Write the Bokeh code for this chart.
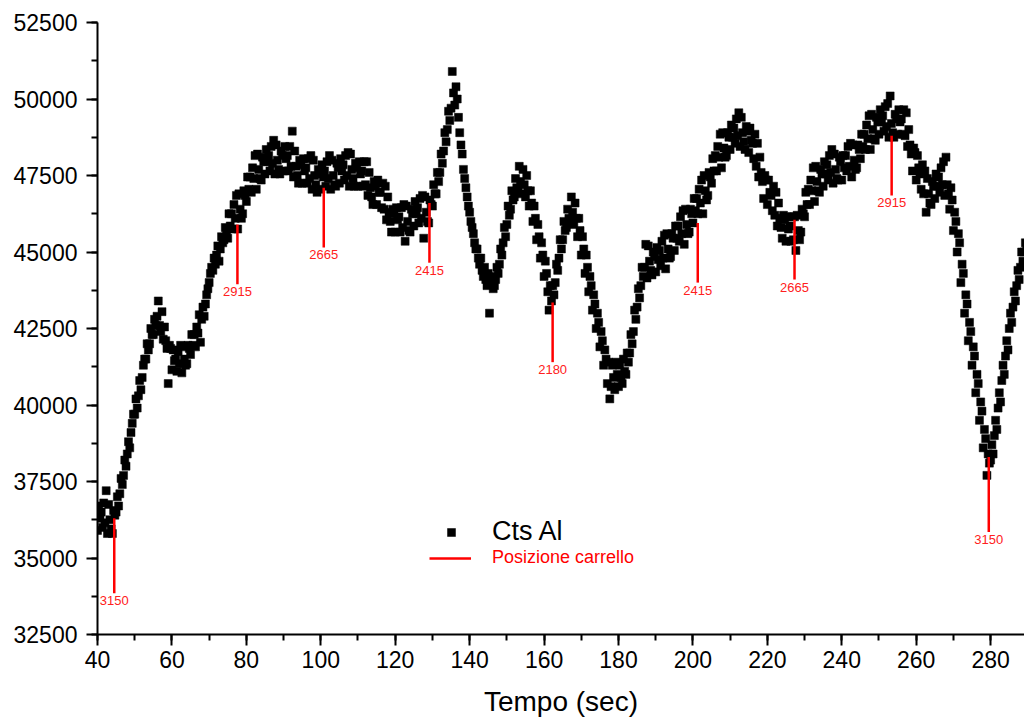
from bokeh.plotting import figure
from bokeh.models import Range1d, SingleIntervalTicker, Legend, LegendItem, ColumnDataSource
from bokeh.embed import file_html
from bokeh.resources import INLINE
from bokeh.core.properties import value

# Counts of Al, sampled 3 times per second from t = 40 s (one row = 5 seconds)
cts_al = [
    35900, 36700, 36300, 36500, 36000, 36800, 36150, 37200, 35800, 36750, 36250, 35950, 35800, 36550, 36400,
    36500, 37000, 36700, 37100, 37600, 37400, 37700, 38200, 38000, 38400, 38800, 38600, 39100, 39400, 39700,
    39700, 40200, 39900, 40300, 40800, 40500, 40900, 41300, 41500, 41500, 42000, 41800, 42000, 42500, 42300,
    42300, 42800, 42600, 42900, 43400, 42600, 42400, 43050, 42150, 42550, 42100, 41850, 40700, 41950, 41850,
    41150, 41800, 41450, 41500, 41100, 41750, 41350, 41950, 41050, 41900, 41500, 41300, 41350, 41950, 41850,
    41650, 42300, 41950, 42300, 41900, 42550, 42350, 42950, 42050, 42800, 43200, 42900, 43300, 43600, 43800,
    44000, 44300, 44500, 44400, 44800, 44600, 44900, 45200, 44700, 45100, 45500, 45300, 45400, 45800, 45600,
    45450, 46250, 45850, 46250, 45750, 46550, 46100, 46850, 45750, 46900, 46400, 46100, 46250, 47000, 46850,
    46650, 47450, 47050, 47450, 46950, 47750, 47400, 48150, 47050, 48200, 47700, 47400, 47350, 48100, 47950,
    47550, 48350, 47950, 48150, 47650, 48450, 47900, 48650, 47550, 48500, 48000, 47700, 47550, 48300, 48150,
    47650, 48450, 48050, 48150, 47650, 48450, 47800, 48950, 47450, 48300, 47800, 47500, 47250, 48000, 47850,
    47250, 48050, 47650, 47750, 47250, 48050, 47400, 48150, 47050, 48000, 47500, 47200, 46950, 47700, 47550,
    47050, 47850, 47450, 47650, 47150, 47950, 47400, 48150, 47050, 48000, 47500, 47200, 47150, 47900, 47750,
    47250, 48050, 47650, 47850, 47350, 48150, 47500, 48250, 47150, 48200, 47700, 47400, 47150, 47900, 47750,
    47150, 47950, 47550, 47650, 47150, 47950, 47200, 47950, 46850, 47600, 47100, 46800, 46550, 47300, 47150,
    46550, 47350, 46950, 46950, 46450, 47250, 46400, 47150, 46050, 46800, 46300, 46000, 45650, 46400, 46250,
    45650, 46450, 46050, 46150, 45650, 46450, 45800, 46550, 45350, 46500, 46000, 45700, 45650, 46400, 46250,
    45850, 46650, 46250, 46450, 45950, 46750, 46100, 46850, 45450, 46800, 46300, 46000, 45950, 46700, 46550,
    46500, 47200, 46900, 46900, 47600, 47300, 47600, 48200, 47900, 48300, 48900, 48600, 49000, 49600, 49300,
    49700, 50900, 50200, 49800, 50400, 50000, 49400, 48900, 48500, 48200, 47700, 47400, 47100, 46800, 46500,
    46300, 46000, 45800, 45600, 45300, 45100, 45100, 44800, 44600, 44800, 44400, 44200, 44500, 44100, 43900,
    44300, 43000, 44000, 44200, 43800, 43900, 44100, 44500, 44300, 44600, 45100, 44900, 45300, 45800, 45500,
    45900, 46500, 46200, 46400, 47000, 46700, 46800, 47400, 47100, 47000, 47800, 47300, 46900, 47700, 47200,
    46800, 47500, 47000, 46500, 47000, 46600, 46000, 46500, 46100, 45400, 45900, 45500, 44800, 45300, 44900,
    44200, 44700, 44300, 43700, 43100, 43900, 43400, 43900, 43600, 44000, 44600, 44400, 44800, 45400, 45100,
    45400, 46000, 45700, 45800, 46400, 46100, 46000, 46800, 46300, 45900, 46600, 46100, 45500, 46100, 45700,
    44900, 45500, 45100, 44300, 44900, 44500, 43700, 44200, 43900, 43100, 43600, 43300, 42500, 43000, 42700,
    41900, 42400, 42100, 41300, 41800, 41500, 40700, 41400, 40200, 40600, 41300, 40900, 40500, 41400, 41000,
    40600, 41300, 40900, 40700, 41500, 41100, 41000, 41700, 41400, 41700, 42300, 42000, 42400, 43100, 42800,
    43200, 43800, 43500, 43900, 44500, 44200, 44500, 45250, 44150, 45200, 44700, 44400, 44250, 45000, 44850,
    44350, 45150, 44750, 45050, 44550, 45350, 44800, 45550, 44450, 45600, 45100, 44800, 44850, 45600, 45450,
    45050, 45850, 45450, 45850, 45350, 46150, 45600, 46350, 45250, 46400, 45900, 45600, 45650, 46400, 46250,
    45950, 46750, 46350, 46750, 46250, 47050, 46600, 47350, 46250, 47500, 47000, 46700, 46850, 47600, 47450,
    47250, 48050, 47650, 48150, 47650, 48450, 48100, 48850, 47750, 48900, 48400, 48100, 48150, 48900, 48750,
    48350, 49150, 48750, 49050, 48550, 49350, 48800, 49550, 48450, 49400, 48900, 48600, 48350, 49100, 48950,
    48250, 49050, 48650, 48550, 48050, 48850, 47800, 48550, 47450, 48100, 47600, 47300, 46750, 47500, 47350,
    46550, 47350, 46950, 46850, 46350, 47150, 46200, 46950, 45850, 46600, 46100, 45800, 45450, 46200, 46050,
    45350, 46150, 45750, 45850, 45350, 46150, 45400, 46150, 45050, 46200, 45700, 45400, 45650, 46400, 46250,
    46150, 46950, 46550, 47050, 46550, 47350, 47000, 47750, 46650, 47800, 47300, 47000, 46950, 47700, 47550,
    47150, 47950, 47550, 47850, 47350, 48150, 47600, 48350, 47250, 48200, 47700, 47400, 47350, 48100, 47950,
    47350, 48150, 47750, 48150, 47650, 48450, 47800, 48550, 47450, 48500, 48000, 47700, 47750, 48500, 48350,
    48050, 48850, 48450, 48850, 48350, 49150, 48700, 49450, 48350, 49500, 49000, 48700, 48650, 49400, 49250,
    48850, 49650, 49250, 49450, 48950, 49750, 49100, 49850, 48750, 50100, 49200, 48900, 48750, 49500, 49350,
    48850, 49650, 49250, 49350, 48850, 49650, 48800, 49550, 48450, 49000, 48500, 48200, 47650, 48400, 48250,
    47350, 48150, 47750, 47550, 47050, 47850, 46900, 47650, 46300, 47400, 46900, 46600, 46550, 47300, 47150,
    46750, 47550, 47150, 47450, 46950, 47750, 47200, 47950, 46850, 48100, 47200, 46900, 46400, 47100, 46700,
    45700, 46300, 46000, 45000, 45600, 45300, 44000, 44600, 44300, 43000, 43600, 43300, 42100, 42700, 42400,
    41300, 41900, 41600, 40400, 41000, 40700, 39500, 40100, 39800, 38600, 39200, 38900, 37700, 38400, 38100,
    38200, 38700, 38400, 39000, 39500, 39200, 39900, 40400, 40100, 40800, 41300, 41000, 41600, 42100, 41800,
    42500, 43000, 42700, 43200, 43700, 43400, 43900, 44400, 44100, 44500, 45000, 44700, 45000, 45300, 45200,
]
tempo = [40 + i / 3 for i in range(len(cts_al))]

# Carriage positions (vertical red markers)
pos_t = [44.5, 77.6, 100.8, 129.2, 162.3, 201.3, 227.3, 253.4, 279.5]
pos_top = [36300, 45900, 47100, 46600, 43350, 45950, 46050, 48800, 38300]
pos_bot = [33850, 43950, 45150, 44650, 41400, 44000, 44100, 46850, 35850]
pos_lab = ["3150", "2915", "2665", "2415", "2180", "2415", "2665", "2915", "3150"]

x_start, x_end = 40, 289.1
y_start, y_end = 32500, 52500

FONT = "Liberation Sans"

p = figure(width=1024, height=719, output_backend="svg", toolbar_location=None,
           x_range=Range1d(x_start, x_end), y_range=Range1d(y_start, y_end),
           min_border_left=97, min_border_right=0, min_border_top=22, min_border_bottom=85)
p.outline_line_color = None
p.grid.visible = False
p.background_fill_color = "white"
p.border_fill_color = "white"

p.xaxis.ticker = SingleIntervalTicker(interval=20, num_minor_ticks=2)
p.yaxis.ticker = SingleIntervalTicker(interval=2500, num_minor_ticks=2)
for ax in (p.xaxis, p.yaxis):
    ax.axis_line_width = 2
    ax.axis_line_color = "black"
    ax.major_tick_line_width = 2
    ax.minor_tick_line_width = 2
    ax.major_tick_in = 0
    ax.major_tick_out = 11
    ax.minor_tick_in = 0
    ax.minor_tick_out = 6
    ax.major_label_text_font = FONT
    ax.major_label_text_font_size = "23px"
    ax.major_label_text_color = "black"
p.yaxis.major_label_standoff = 9
p.xaxis.major_label_standoff = 5
p.xaxis.axis_label = "Tempo (sec)"
p.xaxis.axis_label_text_font = FONT
p.xaxis.axis_label_text_font_size = "28px"
p.xaxis.axis_label_text_font_style = "normal"
p.xaxis.axis_label_text_color = "black"
p.xaxis.axis_label_standoff = 15

src = ColumnDataSource(dict(t=tempo, y=cts_al))
pts = p.scatter("t", "y", source=src, marker="square", size=8,
                fill_color="black", line_color="black", line_width=0.5)

seg = p.segment(x0=pos_t, y0=pos_top, x1=pos_t, y1=pos_bot, line_color="#ff0000", line_width=2.5)
p.text(x=pos_t, y=pos_bot, text=pos_lab, text_align="center", text_baseline="top",
       y_offset=3, text_font=value(FONT), text_font_size="13px", text_color="#ff2020")

leg1 = Legend(items=[LegendItem(label="Cts Al", renderers=[pts])],
              location=(333, 87), orientation="vertical",
              glyph_width=42, glyph_height=20, label_height=20, label_standoff=20,
              label_text_font=FONT, label_text_font_size="27px", label_text_color="black",
              padding=0, margin=0, spacing=0, border_line_alpha=0, background_fill_alpha=0)
leg2 = Legend(items=[LegendItem(label="Posizione carrello", renderers=[seg])],
              location=(332, 66), orientation="vertical",
              glyph_width=42, glyph_height=20, label_height=20, label_standoff=21,
              label_text_font=FONT, label_text_font_size="18px", label_text_color="#ff0000",
              padding=0, margin=0, spacing=0, border_line_alpha=0, background_fill_alpha=0)
p.add_layout(leg1, "center")
p.add_layout(leg2, "center")

open("out.html", "w").write(file_html(p, INLINE))
